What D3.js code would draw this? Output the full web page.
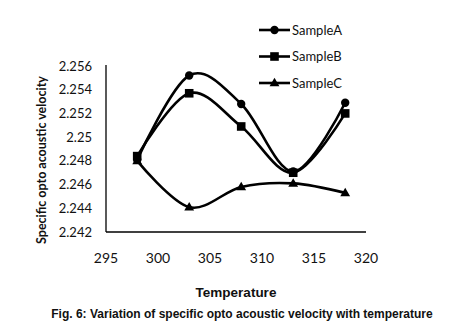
<!DOCTYPE html>
<html><head><meta charset="utf-8">
<script src="https://cdn.jsdelivr.net/npm/d3@7"></script>
<style>body{margin:0;background:#fff}</style>
</head><body>
<svg id="c" width="475" height="335"></svg>
<script>
const temperatures = [298, 303, 308, 313, 318];
const sampleA = [2.2481, 2.2552, 2.2528, 2.2471, 2.2529];
const sampleB = [2.2484, 2.2537, 2.2509, 2.2470, 2.2520];
const sampleC = [2.2480, 2.2441, 2.2458, 2.2461, 2.2453];
const seriesNames = ["SampleA", "SampleB", "SampleC"];
const xTicks = [295, 300, 305, 310, 315, 320];
const yTicks = [2.242, 2.244, 2.246, 2.248, 2.25, 2.252, 2.254, 2.256];
const yTickLabels = ["2.242", "2.244", "2.246", "2.248", "2.25", "2.252", "2.254", "2.256"];

const series = [
  {name: seriesNames[0], values: sampleA, marker: "circle"},
  {name: seriesNames[1], values: sampleB, marker: "square"},
  {name: seriesNames[2], values: sampleC, marker: "triangle"}
];

const svg = d3.select("#c");
const x = d3.scaleLinear().domain([295, 320]).range([106, 366]);
const y = d3.scaleLinear().domain([2.242, 2.256]).range([232, 66]);

// axes lines
svg.append("line").attr("x1", 106).attr("x2", 366).attr("y1", y(2.242)).attr("y2", y(2.242))
  .attr("stroke", "#000").attr("stroke-width", 1.3);
svg.append("line").attr("x1", 106).attr("x2", 106).attr("y1", y(2.242)).attr("y2", y(2.256) - 1)
  .attr("stroke", "#000").attr("stroke-width", 1.3);

// y tick labels
svg.selectAll(".yt").data(yTicks).enter().append("text")
  .attr("x", 92).attr("y", d => y(d)).attr("dy", "0.35em")
  .attr("text-anchor", "end").attr("font-family", "Lato, 'Open Sans', sans-serif")
  .attr("font-size", 13).attr("fill", "#111")
  .text((d, i) => yTickLabels[i]);

// x tick labels
svg.selectAll(".xt").data(xTicks).enter().append("text")
  .attr("x", d => x(d)).attr("y", 263)
  .attr("text-anchor", "middle").attr("font-family", "Lato, 'Open Sans', sans-serif")
  .attr("font-size", 14).attr("fill", "#111")
  .text(d => d);

// y axis title
svg.append("text").attr("transform", "translate(46,160) rotate(-90)")
  .attr("text-anchor", "middle").attr("font-family", "Lato, 'Open Sans', sans-serif")
  .attr("font-weight", "bold").attr("font-size", 12.5).attr("fill", "#111")
  .text("Specific opto acoustic velocity");

// x axis title
svg.append("text").attr("x", 236).attr("y", 297)
  .attr("text-anchor", "middle").attr("font-family", "'Liberation Sans', Arial, sans-serif")
  .attr("font-weight", "bold").attr("font-size", 13.5).attr("fill", "#111")
  .text("Temperature");

// caption
svg.append("text").attr("x", 242).attr("y", 318)
  .attr("text-anchor", "middle").attr("font-family", "'Liberation Sans', Arial, sans-serif")
  .attr("font-weight", "bold").attr("font-size", 12).attr("fill", "#111")
  .text("Fig. 6: Variation of specific opto acoustic velocity with temperature");

const line = d3.line().x((d, i) => x(temperatures[i])).y(d => y(d)).curve(d3.curveCardinal.tension(0));

function drawMarker(g, type, cx, cy) {
  if (type === "circle") g.append("circle").attr("cx", cx).attr("cy", cy).attr("r", 4.2).attr("fill", "#000");
  else if (type === "square") g.append("rect").attr("x", cx - 4.3).attr("y", cy - 4.3).attr("width", 8.6).attr("height", 8.6).attr("fill", "#000");
  else g.append("path").attr("d", d3.symbol().type(d3.symbolTriangle).size(42)()).attr("transform", `translate(${cx},${cy + 0.5})`).attr("fill", "#000");
}

series.forEach(s => {
  svg.append("path").datum(s.values).attr("d", line).attr("fill", "none")
    .attr("stroke", "#000").attr("stroke-width", 2.6);
  const g = svg.append("g");
  s.values.forEach((v, i) => drawMarker(g, s.marker, x(temperatures[i]), y(v)));
});

// legend
series.forEach((s, i) => {
  const ly = 30 + i * 26.5;
  svg.append("line").attr("x1", 259).attr("x2", 290).attr("y1", ly).attr("y2", ly)
    .attr("stroke", "#000").attr("stroke-width", 2.6);
  drawMarker(svg, s.marker, 274.5, ly);
  svg.append("text").attr("x", 292).attr("y", ly).attr("dy", "0.35em")
    .attr("font-family", "Lato, 'Open Sans', sans-serif").attr("font-size", 13).attr("fill", "#111")
    .text(s.name);
});
</script>
</body></html>
